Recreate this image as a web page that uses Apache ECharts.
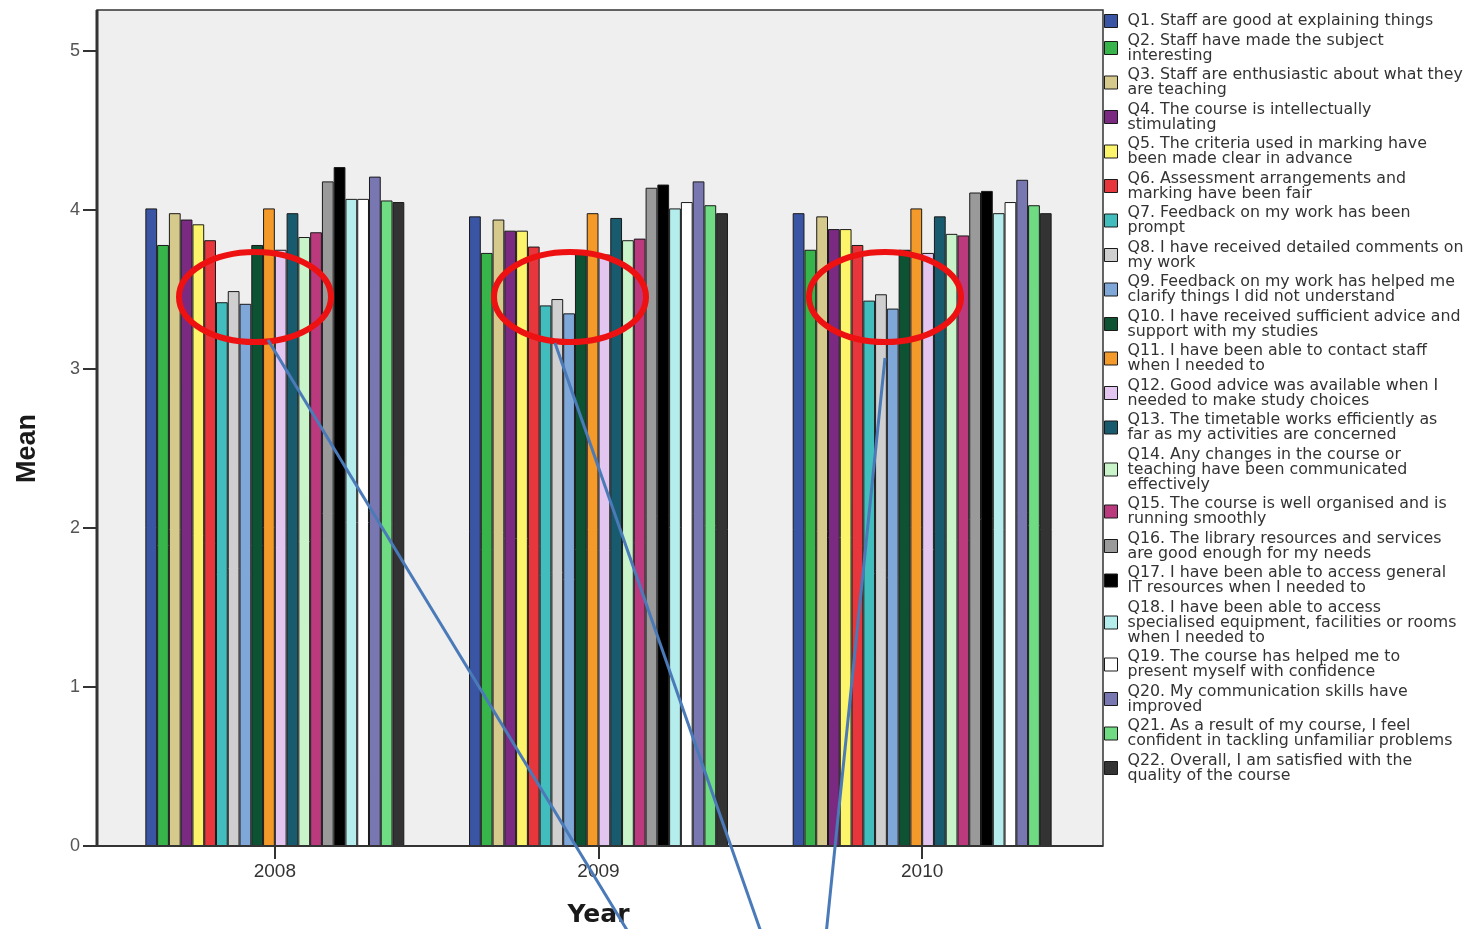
<!DOCTYPE html>
<html>
<head>
<meta charset="utf-8">
<script src="https://cdn.jsdelivr.net/npm/echarts@6/dist/echarts.min.js"></script>
<style>
html,body{margin:0;padding:0;background:#fff;}
#chart{width:1469px;height:929px;}
</style>
</head>
<body>
<div id="chart"></div>
<script>
const years = ['2008', '2009', '2010'];
const yTicks = [0, 1, 2, 3, 4, 5];

const questions = [
  'Q1. Staff are good at explaining things',
  'Q2. Staff have made the subject\ninteresting',
  'Q3. Staff are enthusiastic about what they\nare teaching',
  'Q4. The course is intellectually\nstimulating',
  'Q5. The criteria used in marking have\nbeen made clear in advance',
  'Q6. Assessment arrangements and\nmarking have been fair',
  'Q7. Feedback on my work has been\nprompt',
  'Q8. I have received detailed comments on\nmy work',
  'Q9. Feedback on my work has helped me\nclarify things I did not understand',
  'Q10. I have received sufficient advice and\nsupport with my studies',
  'Q11. I have been able to contact staff\nwhen I needed to',
  'Q12. Good advice was available when I\nneeded to make study choices',
  'Q13. The timetable works efficiently as\nfar as my activities are concerned',
  'Q14. Any changes in the course or\nteaching have been communicated\neffectively',
  'Q15. The course is well organised and is\nrunning smoothly',
  'Q16. The library resources and services\nare good enough for my needs',
  'Q17. I have been able to access general\nIT resources when I needed to',
  'Q18. I have been able to access\nspecialised equipment, facilities or rooms\nwhen I needed to',
  'Q19. The course has helped me to\npresent myself with confidence',
  'Q20. My communication skills have\nimproved',
  'Q21. As a result of my course, I feel\nconfident in tackling unfamiliar problems',
  'Q22. Overall, I am satisfied with the\nquality of the course'
];

const colors = [
  '#3a55a3', '#37b44a', '#d6c98c', '#7b2a82', '#fcf56b', '#e8363d',
  '#41bdbd', '#cfcfcf', '#7fa7d8', '#0d5233', '#f39a2a', '#e2c6ef',
  '#185b6e', '#c9f3c9', '#bb3a7e', '#9a9a9a', '#000000', '#b5ecec',
  '#ffffff', '#7877b1', '#6fdb82', '#333333'
];

// mean per question, for 2008, 2009, 2010
const means2008 = [4.01, 3.78, 3.98, 3.94, 3.91, 3.81, 3.42, 3.49, 3.41, 3.78, 4.01,
                   3.75, 3.98, 3.83, 3.86, 4.18, 4.27, 4.07, 4.07, 4.21, 4.06, 4.05];
const means2009 = [3.96, 3.73, 3.94, 3.87, 3.87, 3.77, 3.40, 3.44, 3.35, 3.73, 3.98,
                   3.72, 3.95, 3.81, 3.82, 4.14, 4.16, 4.01, 4.05, 4.18, 4.03, 3.98];
const means2010 = [3.98, 3.75, 3.96, 3.88, 3.88, 3.78, 3.43, 3.47, 3.38, 3.75, 4.01,
                   3.73, 3.96, 3.85, 3.84, 4.11, 4.12, 3.98, 4.05, 4.19, 4.03, 3.98];

const series = questions.map((q, i) => ({
  name: q,
  type: 'bar',
  data: [means2008[i], means2009[i], means2010[i]],
  barGap: '0%',
  barCategoryGap: '20%',
  itemStyle: { color: colors[i], borderColor: '#1a1a1a', borderWidth: 1 },
  z: 5
}));

const chart = echarts.init(document.getElementById('chart'), null, { renderer: 'canvas' });

const annRed = '#ee1111';
const annBlue = '#4a7ab8';

chart.setOption({
  animation: false,
  backgroundColor: '#ffffff',
  grid: { left: 113, right: 385, top: 51, bottom: 83, containLabel: false, outerBoundsMode: 'none' },
  xAxis: {
    type: 'category',
    data: years,
    name: 'Year',
    nameLocation: 'middle',
    nameGap: 57,
    nameTextStyle: { fontFamily: 'DejaVu Sans, Liberation Sans, Arial', fontWeight: 'bold', fontSize: 25, color: '#1a1a1a' },
    axisLine: { show: false },
    axisTick: { show: true, alignWithLabel: true, length: 13, lineStyle: { color: '#333', width: 2 } },
    axisLabel: { margin: 16, fontFamily: 'Liberation Sans, Arial', fontSize: 19, color: '#333' },
    splitLine: { show: false }
  },
  yAxis: {
    type: 'value',
    min: yTicks[0],
    max: yTicks[yTicks.length - 1],
    interval: 1,
    offset: 16,
    name: 'Mean',
    nameLocation: 'middle',
    nameGap: 56,
    nameTextStyle: { fontFamily: 'Liberation Sans Narrow, Liberation Sans, Arial', fontWeight: 'bold', fontSize: 27, color: '#1a1a1a' },
    axisLine: { show: false },
    axisTick: { show: true, length: 14, lineStyle: { color: '#333', width: 2 } },
    axisLabel: { margin: 17, fontFamily: 'Liberation Sans, Arial', fontSize: 18, color: '#555' },
    splitLine: { show: false }
  },
  legend: {
    orient: 'vertical',
    left: 1099,
    top: 8,
    itemWidth: 13,
    itemHeight: 13,
    itemGap: 3.5,
    icon: 'rect',
    selectedMode: false,
    itemStyle: { borderColor: '#1a1a1a', borderWidth: 1 },
    textStyle: { fontFamily: 'DejaVu Sans, Liberation Sans, Arial', fontSize: 15.8, lineHeight: 15, color: '#333', padding: [0, 0, 0, 5] },
    data: questions
  },
  graphic: [
    { type: 'rect', z: 0, shape: { x: 97, y: 10, width: 1006, height: 836 },
      style: { fill: '#efefef', stroke: '#333', lineWidth: 1.5 } },
    { type: 'line', z: 50, shape: { x1: 97, y1: 10, x2: 97, y2: 847 }, style: { stroke: '#333', lineWidth: 3 } },
    { type: 'line', z: 50, shape: { x1: 96, y1: 846, x2: 1103, y2: 846 }, style: { stroke: '#333', lineWidth: 2 } },
    { type: 'ellipse', z: 100, shape: { cx: 255, cy: 297, rx: 76, ry: 45 }, style: { fill: null, stroke: annRed, lineWidth: 6 } },
    { type: 'ellipse', z: 100, shape: { cx: 570, cy: 297, rx: 76, ry: 45 }, style: { fill: null, stroke: annRed, lineWidth: 6 } },
    { type: 'ellipse', z: 100, shape: { cx: 885, cy: 297, rx: 76, ry: 45 }, style: { fill: null, stroke: annRed, lineWidth: 6 } },
    { type: 'line', z: 100, shape: { x1: 268, y1: 340, x2: 630, y2: 935 }, style: { stroke: annBlue, lineWidth: 3 } },
    { type: 'line', z: 100, shape: { x1: 555, y1: 343, x2: 762, y2: 935 }, style: { stroke: annBlue, lineWidth: 3 } },
    { type: 'line', z: 100, shape: { x1: 885, y1: 358, x2: 826, y2: 935 }, style: { stroke: annBlue, lineWidth: 3 } }
  ],
  series: series
});
</script>
</body>
</html>
